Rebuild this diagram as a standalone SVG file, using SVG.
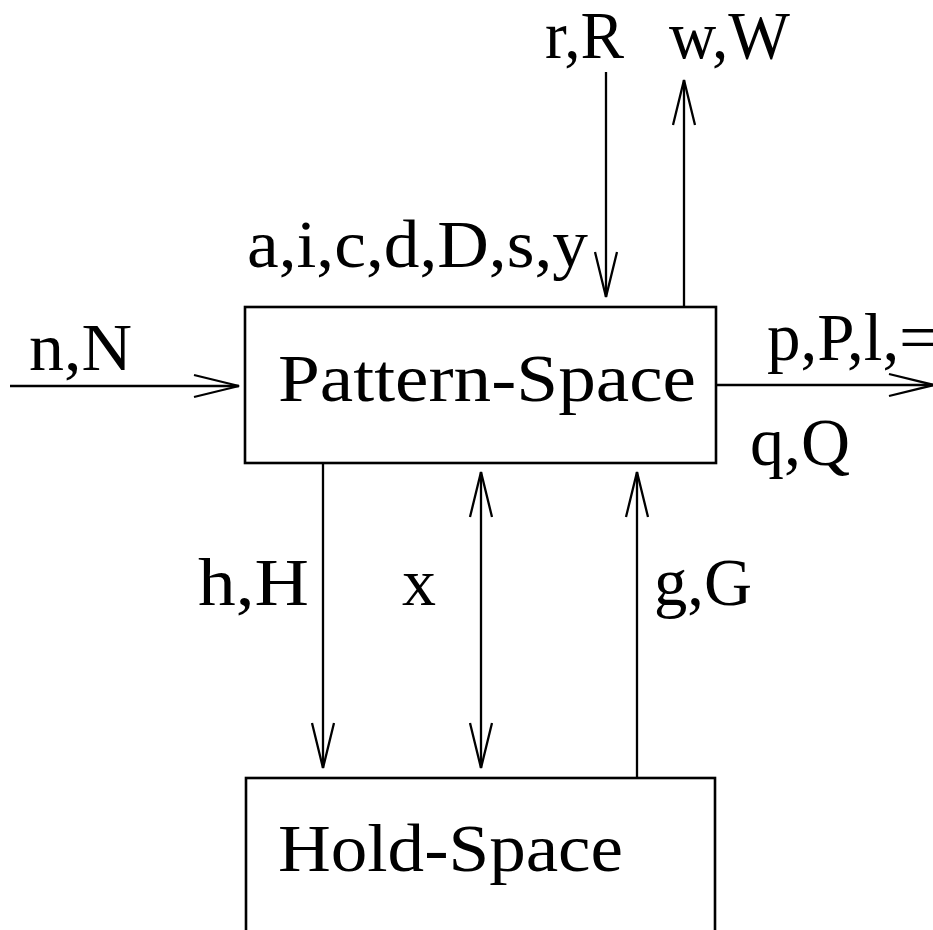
<svg xmlns="http://www.w3.org/2000/svg" width="933" height="930" viewBox="0 0 933 930">
<style>
text{font-family:"Liberation Serif","Times New Roman",serif;font-size:68px;fill:#000}
.box{fill:#fff;stroke:#000;stroke-width:2.6}
.ln{stroke:#000;stroke-width:2.3;fill:none}
</style>
<defs>
<marker id="ah" markerUnits="userSpaceOnUse" markerWidth="60" markerHeight="30" viewBox="-50 -15 60 30" refX="0" refY="0" orient="auto-start-reverse">
<path d="M-45,-11 L0,0 L-45,11" fill="none" stroke="#000" stroke-width="2.3"/>
</marker>
</defs>
<rect width="933" height="930" fill="#fff"/>
<g id="connectors">
<line class="ln" x1="10" y1="386" x2="239" y2="386" marker-end="url(#ah)"/>
<line class="ln" x1="716" y1="385" x2="934" y2="385" marker-end="url(#ah)"/>
<line class="ln" x1="606" y1="72" x2="606" y2="297" marker-end="url(#ah)"/>
<line class="ln" x1="684" y1="307" x2="684" y2="80" marker-end="url(#ah)"/>
<line class="ln" x1="323" y1="463" x2="323" y2="768" marker-end="url(#ah)"/>
<line class="ln" x1="481" y1="472" x2="481" y2="768" marker-start="url(#ah)" marker-end="url(#ah)"/>
<line class="ln" x1="637" y1="778" x2="637" y2="472" marker-end="url(#ah)"/>
</g>
<g id="pattern-space">
<rect class="box" x="245" y="307" width="471" height="156"/>
<text x="278" y="401" textLength="418" lengthAdjust="spacingAndGlyphs">Pattern-Space</text>
</g>
<g id="hold-space">
<rect class="box" x="246" y="778" width="469" height="170"/>
<text x="278" y="871" textLength="345" lengthAdjust="spacingAndGlyphs">Hold-Space</text>
</g>
<g id="labels">
<text x="29" y="370" textLength="103" lengthAdjust="spacingAndGlyphs">n,N</text>
<text x="767" y="360" textLength="170" lengthAdjust="spacingAndGlyphs">p,P,l,=</text>
<text x="750" y="465" textLength="100" lengthAdjust="spacingAndGlyphs">q,Q</text>
<text x="545" y="58" textLength="79" lengthAdjust="spacingAndGlyphs">r,R</text>
<text x="669" y="58" textLength="121" lengthAdjust="spacingAndGlyphs">w,W</text>
<text x="247" y="267" textLength="341" lengthAdjust="spacingAndGlyphs">a,i,c,d,D,s,y</text>
<text x="198" y="605" textLength="111" lengthAdjust="spacingAndGlyphs">h,H</text>
<text x="402" y="605" textLength="34" lengthAdjust="spacingAndGlyphs">x</text>
<text x="654" y="605" textLength="98" lengthAdjust="spacingAndGlyphs">g,G</text>
</g>
</svg>
